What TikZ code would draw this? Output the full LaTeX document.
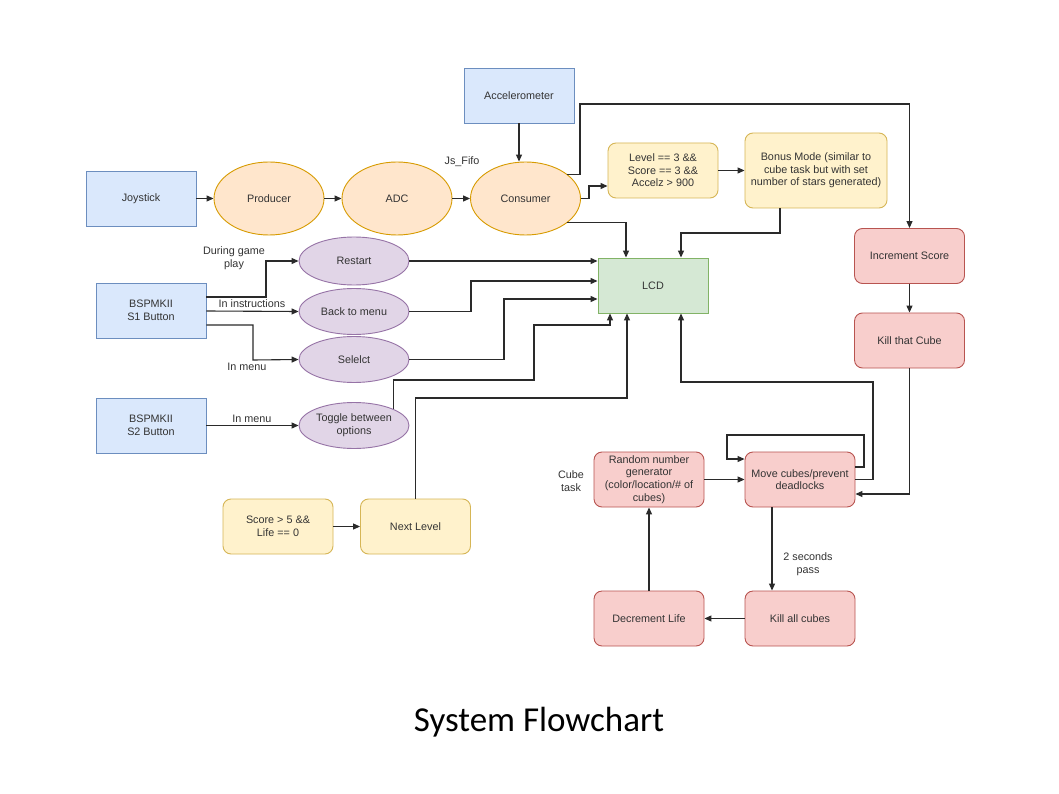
\documentclass[tikz,border=0pt]{standalone}
\usepackage{fontspec}
\setmainfont{Liberation Sans}
\newfontfamily\titlefont{Carlito}
\usetikzlibrary{arrows.meta,shapes.geometric,calc}
\definecolor{bluef}{HTML}{DAE8FC}\definecolor{blued}{HTML}{6C8EBF}
\definecolor{orgf}{HTML}{FFE6CC}\definecolor{orgd}{HTML}{D79B00}
\definecolor{yelf}{HTML}{FFF2CC}\definecolor{yeld}{HTML}{D6B656}
\definecolor{purf}{HTML}{E1D5E7}\definecolor{purd}{HTML}{9673A6}
\definecolor{grnf}{HTML}{D5E8D4}\definecolor{grnd}{HTML}{82B366}
\definecolor{redf}{HTML}{F8CECC}\definecolor{redd}{HTML}{B85450}
\definecolor{txt}{HTML}{333333}
\definecolor{ln}{HTML}{2A2A2A}
\tikzset{
  base/.style={font=\fontsize{10.8}{12.6}\selectfont, text=txt, align=center, inner sep=0pt, line width=0.9pt},
  bluebox/.style={base, draw=blued, fill=bluef, rectangle, minimum width=110pt, minimum height=55pt},
  greenbox/.style={base, draw=grnd, fill=grnf, rectangle, minimum width=110pt, minimum height=55pt},
  yelbox/.style={base, draw=yeld, fill=yelf, rectangle, rounded corners=8pt, minimum width=110pt, minimum height=55pt},
  redbox/.style={base, draw=redd, fill=redf, rectangle, rounded corners=8pt, minimum width=110pt, minimum height=55pt},
  orgell/.style={base, draw=orgd, fill=orgf, ellipse, minimum width=110pt, minimum height=73pt},
  purell/.style={base, draw=purd, fill=purf, ellipse, minimum width=110pt, minimum height=46pt},
  lbl/.style={font=\fontsize{10.8}{12.6}\selectfont, text=txt, align=center, inner sep=0pt},
  arr/.style={draw=ln, line width=1.1pt, -{Triangle[length=7pt,width=6pt]}}
}
\begin{document}
\begin{tikzpicture}[x=1pt,y=-1pt]
\useasboundingbox (0,0) rectangle (1059,794);
\fill[white] (0,0) rectangle (1059,794);
% nodes
\node[bluebox] (acc) at (519,95.5) {Accelerometer};
\node[bluebox] (joy) at (141,198.5) {Joystick};
\node[orgell] (prod) at (269,198.5) {Producer};
\node[orgell] (adc) at (397,198.5) {ADC};
\node[orgell] (cons) at (525.5,198.5) {Consumer};
\node[lbl] (jsf) at (462,162) {Js\_Fifo};
\node[yelbox] (lvl) at (663,170.5) {Level == 3 \&\&\\Score == 3 \&\&\\Accelz > 900};
\node[yelbox, minimum width=142pt, minimum height=75pt] (bonus) at (816,170.5) {Bonus Mode (similar to\\cube task but with set\\number of stars generated)};
\node[redbox] (inc) at (909.5,256) {Increment Score};
\node[redbox] (ktc) at (909.5,340.5) {Kill that Cube};
\node[greenbox] (lcd) at (653,285.5) {LCD};
\node[purell, minimum height=48pt] (rst) at (354,261) {Restart};
\node[purell] (back) at (354,311.5) {Back to menu};
\node[purell] (sel) at (354,359.5) {Selelct};
\node[purell] (tog) at (354,425.5) {Toggle between\\options};
\node[bluebox] (s1) at (151,310.5) {BSPMKII\\S1 Button};
\node[bluebox] (s2) at (151,425.5) {BSPMKII\\S2 Button};
\node[lbl] (l1) at (234,258) {During game\\play};
\node[lbl] (l2) at (252,304) {In instructions};
\node[lbl] (l3) at (247,367) {In menu};
\node[lbl] (l4) at (252,419) {In menu};
\node[yelbox] (sc5) at (278,526.5) {Score > 5 \&\&\\Life == 0};
\node[yelbox] (nxt) at (415.5,526.5) {Next Level};
\node[redbox] (rng) at (649,479.5) {Random number\\generator\\(color/location/\# of\\cubes)};
\node[redbox] (move) at (800,479.5) {Move cubes/prevent\\deadlocks};
\node[redbox] (dec) at (649,618.5) {Decrement Life};
\node[redbox] (kac) at (800,618.5) {Kill all cubes};
\node[lbl] (ct) at (571,481) {Cube\\task};
\node[lbl] (tsp) at (808,564) {2 seconds\\pass};
\node[font=\titlefont\fontsize{35}{40}\selectfont, inner sep=0pt] (title) at (539,722) {System Flowchart};
% connectors
\draw[arr] (joy.east) -- (prod.west);
\draw[arr] (prod.east) -- (adc.west);
\draw[arr] (adc.east) -- (cons.west);
\draw[arr] (acc.south) -- (acc.south |- cons.north);
\draw[arr] (cons.30) -| (580,104) -| (inc.north);
\draw[arr] (cons.east) -| (589,186) -- (lvl.west |- 0,186);
\draw[arr] (cons.-30) -| (lcd.north -| 626,0);
\draw[arr] (lvl.east) -- (bonus.west);
\draw[arr] (bonus.south -| 780,0) |- (681,233) -- (lcd.north -| 681,0);
\draw[arr] (s1.east |- 0,297) -| (266,261) -- (rst.west);
\draw[arr] (s1.east |- 0,311) -- (back.west);
\draw[arr] (s1.east |- 0,325) -| (253,360) -- (sel.west);
\draw[arr] (s2.east) -- (tog.west);
\draw[arr] (rst.east) -- (lcd.west |- rst.east);
\draw[arr] (back.east) -| (471,281) -- (lcd.west |- 0,281);
\draw[arr] (sel.east) -| (504,299) -- (lcd.west |- 0,299);
\draw[arr] (tog.north east) |- (534,380) |- (610,325) -- (lcd.south -| 610,0);
\draw[arr] (nxt.north) |- (627,398) -- (lcd.south -| 627,0);
\draw[arr] (sc5.east) -- (nxt.west);
\draw[arr] (move.east) -| (873,382) -| (lcd.south -| 681,0);
\draw[arr] (move.east |- 0,467) -| (864,435) -| (727,459) -- (move.west |- 0,459);
\draw[arr] (inc.south) -- (ktc.north);
\draw[arr] (ktc.south) |- (move.east |- 0,494);
\draw[arr] (rng.east) -- (move.west);
\draw[arr] (move.south -| 772,0) -- (kac.north -| 772,0);
\draw[arr] (kac.west) -- (dec.east);
\draw[arr] (dec.north) -- (rng.south);
\end{tikzpicture}
\end{document}
